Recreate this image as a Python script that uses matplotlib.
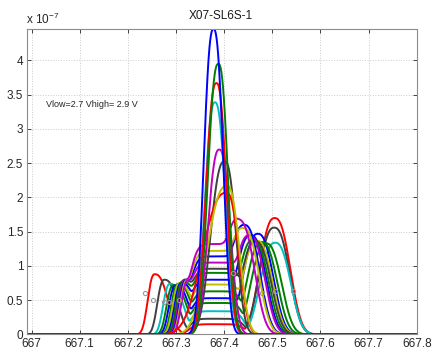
#! /usr/bin/env python3

import matplotlib
matplotlib.use("Agg")
import matplotlib.pyplot as plt
import numpy as np

plt.rcParams["font.family"] = ["Liberation Sans", "DejaVu Sans"]
plt.rcParams["mathtext.fontset"] = "custom"
plt.rcParams["mathtext.rm"] = "Liberation Sans"

# MATLAB-style line colours
C = {"b": (0, 0, 1), "g": (0, 0.5, 0), "r": (1, 0, 0), "c": (0, 0.75, 0.75),
     "m": (0.75, 0, 0.75), "y": (0.75, 0.75, 0), "k": (0.25, 0.25, 0.25)}

# single narrow peaks: colour, centre (nm), height (x1e-7), left / right half widths
narrow_color = ["k", "r", "y", "m", "c", "r", "g", "b"]
narrow_center = [667.401, 667.405, 667.406, 667.390, 667.381, 667.384, 667.388, 667.378]
narrow_height = [2.53, 2.07, 2.17, 2.70, 3.39, 3.67, 3.95, 4.46]
narrow_wl = [0.032, 0.055, 0.045, 0.026, 0.023, 0.024, 0.024, 0.022]
narrow_wr = [0.026, 0.028, 0.028, 0.025, 0.024, 0.023, 0.022, 0.022]

# two-mode spectra: left mode, floor between the modes, right mode
dual_color = ["r", "k", "c", "g", "b", "g", "y", "b", "g", "k", "m", "b", "y", "m"]
left_center = [667.256, 667.276, 667.288, 667.295, 667.300, 667.305, 667.308,
               667.312, 667.315, 667.318, 667.320, 667.322, 667.324, 667.326]
left_height = [0.88, 0.80, 0.74, 0.72, 0.72, 0.74, 0.75,
               0.76, 0.78, 0.80, 0.80, 0.80, 0.80, 0.80]
floor_level = [0.15, 0.23, 0.34, 0.46, 0.53, 0.63, 0.73,
               0.80, 0.90, 0.96, 1.05, 1.14, 1.22, 1.32]
right_center = [667.505, 667.504, 667.506, 667.487, 667.470, 667.478, 667.468,
                667.455, 667.460, 667.465, 667.452, 667.442, 667.440, 667.431]
right_height = [1.70, 1.56, 1.34, 1.33, 1.47, 1.35, 1.37,
                1.45, 1.38, 1.36, 1.45, 1.60, 1.55, 1.66]

# grey sample markers
mark_x = [667.235, 667.253, 667.276, 667.286, 667.307, 667.419, 667.478, 667.506, 667.544]
mark_y = [0.61, 0.51, 0.47, 0.48, 0.50, 0.90, 0.61, 0.63, 0.63]

y_ticks = [0, 0.5, 1, 1.5, 2, 2.5, 3, 3.5, 4]
x_ticks = [667, 667.1, 667.2, 667.3, 667.4, 667.5, 667.6, 667.7, 667.8]


def bump(x, c, h, wl, wr, p=2.5):
    w = np.where(x < c, wl, wr)
    return h * np.exp(-np.log(2) * np.abs((x - c) / w) ** p)


def soft_max(parts, k=6):
    return np.sum([q ** k for q in parts], axis=0) ** (1.0 / k)


wl_axis = np.linspace(666.99, 667.8, 1621)

fig = plt.figure(figsize=(4.32, 3.5), dpi=100)
ax = fig.add_axes([0.0618, 0.0443, 0.9028, 0.8729])

for i in range(len(dual_color)):
    s = soft_max([
        bump(wl_axis, left_center[i], left_height[i], 0.016, 0.03),
        bump(wl_axis, 667.385, floor_level[i], 0.058, 0.058, p=6),
        bump(wl_axis, right_center[i], right_height[i], 0.034, 0.035),
    ])
    ax.plot(wl_axis, s * 1e-7, color=C[dual_color[i]], lw=1.4)

for i in range(len(narrow_color)):
    s = bump(wl_axis, narrow_center[i], narrow_height[i], narrow_wl[i], narrow_wr[i])
    ax.plot(wl_axis, s * 1e-7, color=C[narrow_color[i]], lw=1.4)

ax.plot(mark_x, np.array(mark_y) * 1e-7, "o", ms=3, mfc="none", mec="0.6", mew=0.8)

ax.set_xlim(666.99, 667.8)
ax.set_ylim(0, 4.46e-7)
ax.set_xticks(x_ticks)
ax.set_xticklabels([f"{t:g}" for t in x_ticks])
ax.set_yticks(np.array(y_ticks) * 1e-7)
ax.set_yticklabels([f"{t:g}" for t in y_ticks])
ax.tick_params(direction="in", top=True, right=True, length=3, width=0.6,
               labelsize=8.5, pad=2.5, colors="0.15")
ax.grid(True, linestyle=":", color="0.8", lw=0.7)
for sp in ax.spines.values():
    sp.set_color("0.55")
    sp.set_linewidth(0.8)

ax.text(667.0296, 3.355e-7, "Vlow=2.7 Vhigh= 2.9 V", fontsize=6.5, va="center", color="0.15")
fig.text(221 / 432, 1 - 19 / 350, "X07-SL6S-1", ha="center", va="baseline",
         fontsize=8.5, color="0.1")
fig.text(26 / 432, 1 - 24 / 350, "x 10$^{-7}$", ha="left", va="baseline",
         fontsize=8.5, color="0.15")

fig.savefig("out.png", dpi=100)
